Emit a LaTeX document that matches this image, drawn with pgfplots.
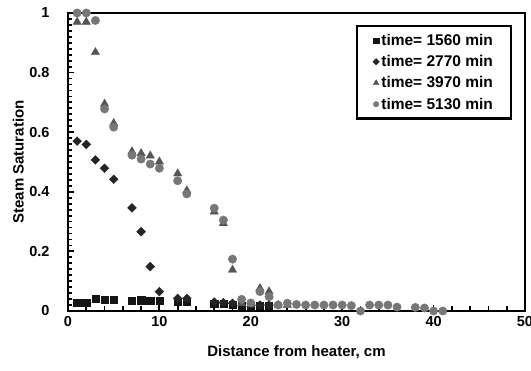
\documentclass[border=0pt]{standalone}
\usepackage{fontspec}
\setmainfont{Liberation Sans}
\usepackage{pgfplots}
\pgfplotsset{compat=1.18}
\definecolor{c1}{HTML}{151515}
\definecolor{c2}{HTML}{252525}
\definecolor{c3}{HTML}{555555}
\definecolor{c4}{HTML}{777777}
\begin{document}
\begin{tikzpicture}
\useasboundingbox (-68pt,-60pt) rectangle (463pt,311pt);
\begin{axis}[
 at={(0pt,0pt)}, anchor=south west,
 scale only axis, width=457pt, height=298pt,
 xmin=0, xmax=50, ymin=0, ymax=1,
 clip=false,
 xtick={0,10,20,30,40,50}, minor xtick={2,4,...,48},
 ytick={0,0.2,0.4,0.6,0.8,1}, minor ytick={0.02,0.04,...,0.99},
 tick pos=left, tick align=inside,
 major tick length=6pt, minor tick length=4.5pt,
 tick style={black, line width=1.8pt},
 every outer x axis line/.append style={line width=2.2pt},
 every outer y axis line/.append style={line width=2.2pt},
 /pgf/number format/assume math mode=true,
 ticklabel style={font=\fontsize{14.5}{16}\selectfont\bfseries},
 xticklabel style={yshift=-2pt},
 yticklabel style={xshift=-15pt},
 xlabel={Distance from heater, cm},
 ylabel={Steam Saturation},
 label style={font=\fontsize{15}{17}\selectfont\bfseries},
 xlabel style={at={(axis description cs:0.5,-0.1376)}, anchor=center},
 ylabel style={at={(axis description cs:-0.109,0.5)}, anchor=center},
 legend style={at={(0.972,0.96)}, anchor=north east, draw=black, line width=2.5pt,
   font=\fontsize{15.5}{17}\selectfont\bfseries, inner xsep=16pt, inner ysep=6pt,
   row sep=4.5pt},
 legend cell align=left,
 legend image post style={line width=0.3pt},
]
\addlegendimage{only marks, mark=square*, c1, mark size=2.6pt}
\addlegendentry{time= 1560 min}
\addlegendimage{only marks, mark=square*, c2, mark size=2.3pt, mark options={rotate=45}}
\addlegendentry{time= 2770 min}
\addlegendimage{only marks, mark=triangle*, c3, mark size=3.4pt}
\addlegendentry{time= 3970 min}
\addlegendimage{only marks, mark=*, c4, mark size=2.8pt}
\addlegendentry{time= 5130 min}

\addplot[forget plot, only marks, mark=square*, mark size=3.6pt, c1, mark options={line width=0.4pt}] coordinates {
(1,0.028) (2,0.028) (3,0.040) (4,0.038) (5,0.038) (7,0.034) (8,0.036) (9,0.034) (10,0.034)
(12,0.030) (13,0.030) (16,0.025) (17,0.025) (18,0.022) (19,0.018) (20,0.018) (21,0.018) (22,0.018)
};
\addplot[forget plot, only marks, mark=square*, mark size=3.1pt, c2, mark options={rotate=45, line width=0.4pt}] coordinates {
(1,0.570) (2,0.559) (3,0.507) (4,0.479) (5,0.442) (7,0.346) (8,0.266) (9,0.149) (10,0.065)
(12,0.042) (13,0.042) (16,0.030) (17,0.028) (18,0.026) (21,0.020) (22,0.020)
};
\addplot[forget plot, only marks, mark=triangle*, mark size=4.8pt, c3, mark options={line width=0.4pt}] coordinates {
(1,0.97) (2,0.97) (3,0.868) (4,0.695) (5,0.63) (7,0.535) (8,0.529) (9,0.521) (10,0.501)
(12,0.461) (13,0.404) (16,0.333) (17,0.294) (18,0.138) (19,0.025) (20,0.022) (21,0.076) (22,0.065)
(23,0.02) (24,0.02)
};
\addplot[forget plot, only marks, mark=*, mark size=4.2pt, c4, mark options={line width=0.4pt}] coordinates {
(1,1.0) (2,1.0) (3,0.975) (4,0.678) (5,0.617) (7,0.523) (8,0.51) (9,0.493) (10,0.479)
(12,0.437) (13,0.393) (16,0.345) (17,0.305) (18,0.174) (19,0.039) (20,0.027) (21,0.065) (22,0.048)
(23,0.02) (24,0.026) (25,0.022) (26,0.02) (27,0.02) (28,0.02) (29,0.02) (30,0.02) (31,0.018)
(32,0.0) (33,0.02) (34,0.02) (35,0.02) (36,0.013) (38,0.012) (39,0.01) (40,0.0) (41,0.0)
};
\end{axis}
\end{tikzpicture}
\end{document}
